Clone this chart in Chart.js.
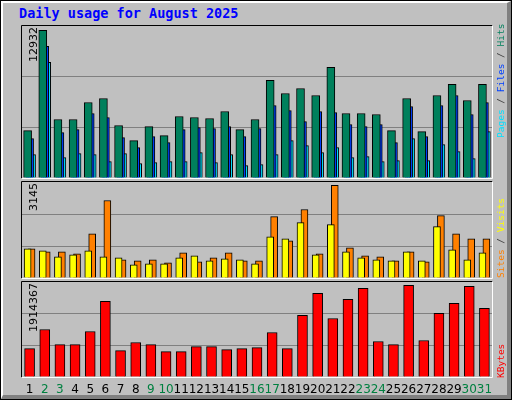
<!DOCTYPE html>
<html>
<head>
<meta charset="utf-8">
<script src="https://cdn.jsdelivr.net/npm/chart.js@4/dist/chart.umd.min.js"></script>
<style>
  body { margin: 0; background: #fff; }
  #box { position: relative; width: 510px; height: 398px; background: #c0c0c0;
         border: 1px solid #000; overflow: hidden; }
  #bevel { position: absolute; left: 0; top: 0; width: 504px; height: 392px;
           border-top: 2px solid #fff; border-left: 2px solid #fff;
           border-right: 4px solid #808080; border-bottom: 4px solid #808080; }
  #title { position: absolute; left: 18px; top: 4px; font: bold 13.5px "DejaVu Sans Mono", monospace; color: #0000ff; }
  canvas { position: absolute; left: 0; }
</style>
</head>
<body>
<div id="box">
  <div id="bevel"></div>
  <div id="title">Daily usage for August 2025</div>
  <canvas id="c1" style="top:0"></canvas>
  <canvas id="c2" style="top:180px"></canvas>
  <canvas id="c3" style="top:280px"></canvas>
</div>
<script>
// jours du mois
const days = [];
for (let i = 1; i <= 31; i++) days.push(String(i));
const weekend = [2, 3, 9, 10, 16, 17, 23, 24, 30, 31];

const hits = [4155, 12932, 5120, 5120, 6613, 6964, 4594, 3277, 4506, 3716, 5384, 5296, 5208, 5823, 4243, 5120,
  8544, 7403, 7842, 7227, 9685, 5647, 5647, 5559, 4155, 6964, 4067, 7227, 8193, 6788, 8193];
const files = [3453, 11528, 3979, 4243, 5647, 5296, 3540, 2663, 3628, 3102, 4243, 4418, 4330, 4506, 3628, 4330,
  6349, 5911, 4945, 5823, 5735, 4682, 4506, 4682, 3102, 6262, 3628, 6349, 7227, 5559, 6613];
const pages = [2048, 10124, 1785, 2136, 2048, 1434, 2136, 1258, 1346, 1434, 1434, 2224, 1346, 2048, 1083, 1170,
  2048, 3277, 2838, 2224, 2663, 1785, 1873, 1434, 1522, 3453, 1522, 2926, 2312, 1697, 4067];
const visits = [991, 923, 718, 786, 923, 718, 683, 444, 478, 478, 683, 752, 581, 649, 615, 478,
  1401, 1333, 1879, 786, 1811, 888, 683, 615, 581, 888, 581, 1743, 957, 615, 854];
const sites = [991, 888, 888, 820, 1503, 2631, 615, 581, 615, 513, 854, 547, 683, 854, 581, 581,
  2084, 1264, 2324, 820, 3145, 1025, 752, 718, 581, 888, 547, 2119, 1503, 1333, 1333];
const kbytes = [593895, 992154, 677739, 677739, 950232, 1579062, 551973, 719661, 677739, 531012, 531012, 635817,
  635817, 572934, 593895, 614856, 929271, 593895, 1285608, 1746750, 1222725, 1620984, 1851555, 740622, 677739,
  1914367, 761583, 1327530, 1537140, 1893477, 1432335];

const W = 512;

// cadre + textes verticaux
function panelPlugin(maxLabel, rightParts, rightY, showDays) {
  return {
    id: "panel",
    afterDraw(chart) {
      const ctx = chart.ctx, a = chart.chartArea;
      ctx.save();
      ctx.lineWidth = 1;
      ctx.strokeStyle = "#000";
      ctx.beginPath();
      ctx.moveTo(a.left - 0.5, a.bottom + 0.5); ctx.lineTo(a.left - 0.5, a.top - 0.5); ctx.lineTo(a.right + 0.5, a.top - 0.5);
      ctx.stroke();
      ctx.strokeStyle = "#fff";
      ctx.beginPath();
      ctx.moveTo(a.right + 0.5, a.top - 0.5); ctx.lineTo(a.right + 0.5, a.bottom + 0.5); ctx.lineTo(a.left - 0.5, a.bottom + 0.5);
      ctx.stroke();
      // valeur max
      ctx.font = "11px 'DejaVu Sans'";
      ctx.fillStyle = "#000";
      ctx.translate(36, a.top);
      ctx.rotate(-Math.PI / 2);
      ctx.textAlign = "right";
      ctx.fillText(maxLabel, -1, 0);
      ctx.restore();
      // légende à droite
      ctx.save();
      ctx.font = "9.5px 'DejaVu Sans Mono'";
      ctx.translate(503, rightY);
      ctx.rotate(-Math.PI / 2);
      ctx.textAlign = "left";
      let x = 0;
      rightParts.forEach(p => {
        ctx.fillStyle = p[1];
        ctx.fillText(p[0], x, 0);
        x += ctx.measureText(p[0]).width;
      });
      ctx.restore();
      if (showDays) {
        ctx.save();
        ctx.font = "12px 'DejaVu Sans'";
        ctx.textAlign = "center";
        const xs = chart.scales.x;
        days.forEach((d, i) => {
          ctx.fillStyle = weekend.includes(i + 1) ? "#008040" : "#000";
          ctx.fillText(d, xs.getPixelForValue(i + 1), 112);
        });
        ctx.restore();
      }
    }
  };
}

// s = [valeurs, couleur, décalage (en jours), épaisseur]
function makeChart(id, h, pad, sets, ymax, plugin) {
  const cv = document.getElementById(id);
  cv.width = W; cv.height = h;
  cv.style.width = W + "px"; cv.style.height = h + "px";
  return new Chart(cv.getContext("2d"), {
    type: "bar",
    data: {
      datasets: sets.map(s => ({
        data: s[0].map((v, i) => ({ x: i + 1 + s[2], y: v })),
        backgroundColor: s[1], borderColor: "#000", borderWidth: 1,
        barThickness: s[3], grouped: false
      }))
    },
    options: {
      responsive: false, animation: false, devicePixelRatio: 1,
      layout: { padding: pad },
      plugins: { legend: { display: false }, tooltip: { enabled: false } },
      scales: {
        x: { type: "linear", display: false, min: 0.5, max: 31.5, offset: false },
        y: {
          display: true, min: 0, max: ymax,
          ticks: { display: false, stepSize: ymax / 3 },
          border: { display: false },
          grid: {
            drawTicks: false,
            color: c => (c.index === 1 || c.index === 2) ? "#808080" : "rgba(0,0,0,0)"
          }
        }
      }
    },
    plugins: [plugin]
  });
}

const sl = "#404040";
makeChart("c1", 180, { top: 25, bottom: 3, left: 21, right: 21 },
  [[hits, "#00805c", -0.13, 8], [files, "#0040ff", 0, 8], [pages, "#00e0ff", 0.13, 8]], 13312,
  panelPlugin("12932", [["Pages", "#00e0ff"], [" / ", sl], ["Files", "#0040ff"], [" / ", sl], ["Hits", "#00805c"]], 137, false));
makeChart("c2", 100, { top: 1, bottom: 3, left: 21, right: 21 },
  [[visits, "#ffff00", -0.13, 7], [sites, "#ff8000", 0.13, 7]], 3259,
  panelPlugin("3145", [["Sites", "#ff8000"], [" / ", sl], ["Visits", "#ffff00"]], 97, false));
makeChart("c3", 120, { top: 1, bottom: 24, left: 21, right: 21 },
  [[kbytes, "#ff0000", 0, 10]], 1984236,
  panelPlugin("1914367", [["KBytes", "#ff0000"]], 97, true));
</script>
</body>
</html>
